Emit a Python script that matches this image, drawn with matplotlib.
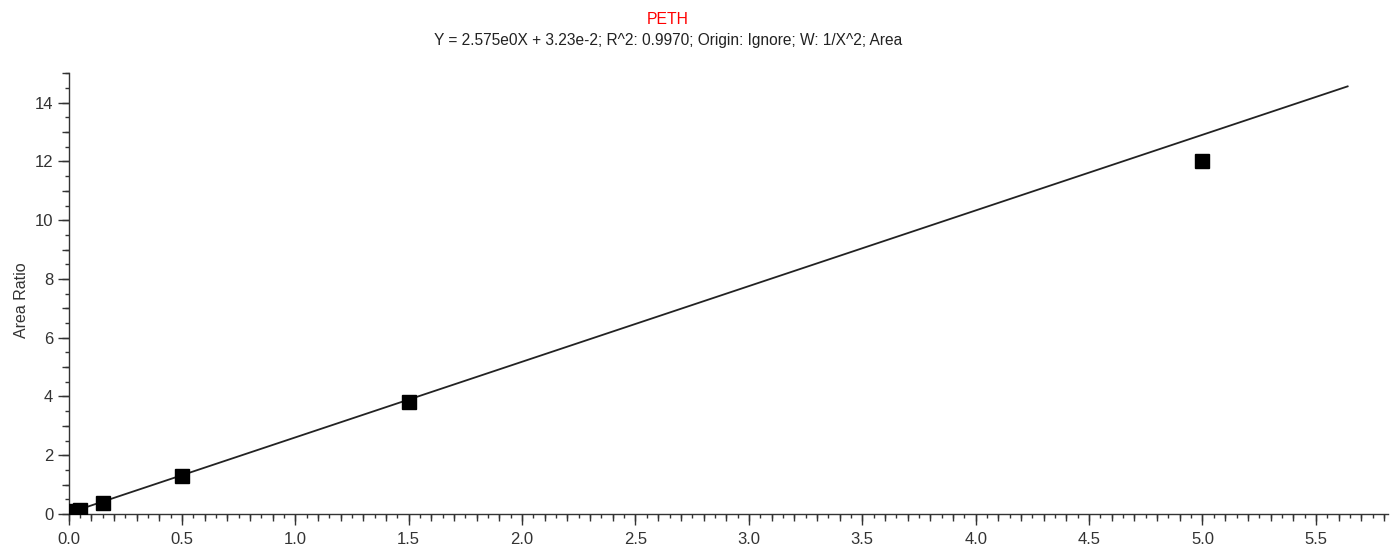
import matplotlib
matplotlib.use("Agg")
import matplotlib.pyplot as plt
from matplotlib.ticker import MultipleLocator, NullFormatter, NullLocator
import numpy as np

plt.rcParams['font.family'] = ['Liberation Sans', 'DejaVu Sans']

# Calibration data
conc = [0.025, 0.05, 0.15, 0.5, 1.5, 5.0]
area_ratio = [0.10, 0.12, 0.38, 1.30, 3.80, 12.00]

# Regression parameters (from the title)
slope = 2.575
intercept = 0.0323
fit_range = [0.0, 5.64]

title_main = "PETH"
title_sub = "Y = 2.575e0X + 3.23e-2; R^2: 0.9970; Origin: Ignore; W: 1/X^2; Area"
y_label = "Area Ratio"

tick_col = '#333333'

fig = plt.figure(figsize=(13.91, 5.47), dpi=100)
ax = fig.add_axes([68.5/1391, 33/547, (1388-68.5)/1391, (514-73.3)/547])

fx = np.array(fit_range)
ax.plot(fx, slope*fx + intercept, color='#222222', lw=1.3, zorder=2)
ax.plot(conc, area_ratio, ls='none', marker='s', ms=9.5, color='black', zorder=3)

ax.set_xlim(0, 5.818)
ax.set_ylim(0, 15)
ax.xaxis.set_major_locator(MultipleLocator(0.5))
ax.xaxis.set_minor_locator(MultipleLocator(0.05))
ax.yaxis.set_major_locator(MultipleLocator(2))
ax.yaxis.set_minor_locator(MultipleLocator(0.5))
ax.xaxis.set_major_formatter(plt.FuncFormatter(lambda v, p: f"{v:.1f}"))

for s in ['top', 'right']:
    ax.spines[s].set_visible(False)
for s in ['left', 'bottom']:
    ax.spines[s].set_color(tick_col)
    ax.spines[s].set_linewidth(1.0)

ax.tick_params(which='major', length=8, width=1.0, color=tick_col, labelsize=12,
               labelcolor='#333333', direction='out')
ax.tick_params(which='minor', length=3, width=1.0, color=tick_col, direction='out')
ax.tick_params(axis='x', which='major', pad=5)
ax.tick_params(axis='y', which='major', pad=3)

# medium-length intermediate ticks
secx = ax.secondary_xaxis('bottom')
secx.xaxis.set_major_locator(MultipleLocator(0.1))
secx.xaxis.set_major_formatter(NullFormatter())
secx.xaxis.set_minor_locator(NullLocator())
secx.tick_params(which='major', length=5, width=1.0, color=tick_col)
secx.spines['bottom'].set_visible(False)

secy = ax.secondary_yaxis('left')
secy.yaxis.set_major_locator(MultipleLocator(1))
secy.yaxis.set_major_formatter(NullFormatter())
secy.yaxis.set_minor_locator(NullLocator())
secy.tick_params(which='major', length=5, width=1.0, color=tick_col)
secy.spines['left'].set_visible(False)

fig.text(22/1391, 1 - 300/547, y_label, fontsize=11.5, color='#333333',
         rotation=90, ha='center', va='center')

fig.text(668/1391, 1 - 20/547, title_main, color='red', fontsize=11.3, ha='center', va='center')
fig.text(668/1391, 1 - 41/547, title_sub, color='#222222', fontsize=11.2, ha='center', va='center')

fig.savefig('out.png', dpi=100)
